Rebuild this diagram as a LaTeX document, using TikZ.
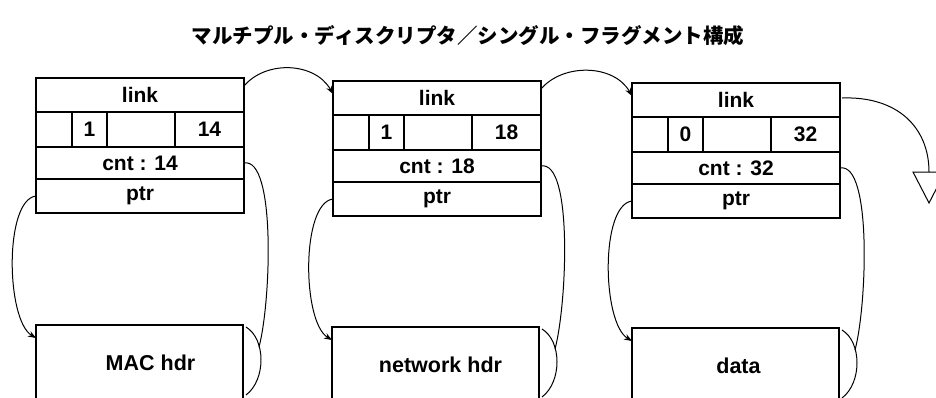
\documentclass[tikz,border=0pt]{standalone}
\usepackage{fontspec}
\setmainfont{Liberation Sans}
\newfontfamily\cjk{Noto Sans CJK JP}
\usetikzlibrary{arrows.meta,calc}
\tikzset{
  cell/.style={draw,line width=2pt,rectangle,inner sep=0pt,outer sep=0pt,anchor=north west,font=\bfseries\fontsize{21}{21}\selectfont},
  bufbox/.style={draw,line width=2.2pt,rectangle,inner sep=0pt,outer sep=0pt,anchor=north west,minimum width=207pt,minimum height=76pt},
  lbl/.style={font=\bfseries\fontsize{21.5}{21.5}\selectfont},
  conn/.style={line width=1pt},
  tip/.style={-{Stealth[length=8pt,width=6pt]}},
}
\begin{document}
\begin{tikzpicture}[x=1pt,y=-1pt]
\useasboundingbox (0,0) rectangle (936,397);
\clip (0,0) rectangle (936,397);
\node[font=\cjk\bfseries\fontsize{20.5}{20.5}\selectfont] (title) at (468,36) {マルチプル・ディスクリプタ／シングル・フラグメント構成};
\foreach \i/\x/\y/\f/\n/\bx/\by in {1/36/78/1/14/36/325, 2/333/81/1/18/332/327, 3/632/83/0/32/632/328}{
  \node[cell,minimum width=208pt,minimum height=34pt] (d\i link) at (\x,\y) {link};
  \node[cell,minimum width=36pt,minimum height=35pt] (d\i a) at (\x,\y+34) {};
  \node[cell,minimum width=35pt,minimum height=35pt] (d\i b) at (\x+36,\y+34) {\f};
  \node[cell,minimum width=68pt,minimum height=35pt] (d\i c) at (\x+71,\y+34) {};
  \node[cell,minimum width=69pt,minimum height=35pt] (d\i d) at (\x+139,\y+34) {\n};
  \node[cell,minimum width=208pt,minimum height=32pt] (d\i cnt) at (\x,\y+69) {cnt : \n};
  \node[cell,minimum width=208pt,minimum height=34pt] (d\i ptr) at (\x,\y+101) {ptr};
  \node[bufbox] (b\i) at (\bx,\by) {};
  \coordinate (bs\i) at ($(b\i.north east)+(3,2)$);
  \coordinate (be\i) at ($(b\i.north east)+(3,70)$);
  \coordinate (bm\i) at ($(b\i.north east)+(16,22)$);
  \draw[conn] (bs\i) .. controls +(20,12) and +(20,-15) .. (be\i);
  \draw[conn] (d\i cnt.east) .. controls +(32,-6) and +(12,-45) .. (bm\i);
  \draw[conn,tip] (d\i ptr.west) .. controls +(-32,4) and +(-30,-18) .. ($(b\i.north west)+(0,13)$);
}
\node[lbl] (t1) at ($(b1.north)+(11,38)$) {MAC hdr};
\node[lbl] (t2) at ($(b2.north)+(5,38)$) {network hdr};
\node[lbl] (t3) at ($(b3.north)+(3,38)$) {data};
\draw[conn,tip] ($(d1link.north east)+(0,8)$) .. controls +(22,-26) and +(-18,-32) .. ($(d2link.north west)+(0,13)$);
\draw[conn,tip] ($(d2link.north east)+(0,8)$) .. controls +(22,-26) and +(-18,-32) .. ($(d3link.north west)+(0,13)$);
\coordinate (tritop) at (929,172);
\draw[conn] ($(d3link.north east)+(2,15)$) .. controls +(55,-2) and +(0,-45) .. (tritop);
\draw[conn] (913,172) -- (945,172) -- (929,203) -- cycle;
\end{tikzpicture}
\end{document}
